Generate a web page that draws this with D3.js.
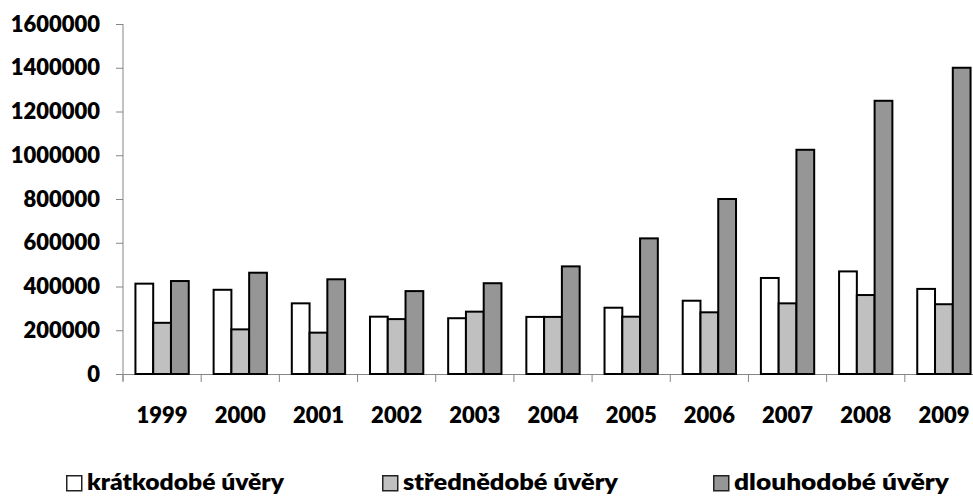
<!DOCTYPE html>
<html>
<head>
<meta charset="utf-8">
<script src="https://cdn.jsdelivr.net/npm/d3@7"></script>
<style>
  body { margin: 0; background: #fff; }
  svg { display: block; }
  text { font-family: Lato, "Open Sans", sans-serif; font-weight: 800; fill: #000; }
</style>
</head>
<body>
<svg width="973" height="496"></svg>
<script>
const d3 = window.d3

// Data

const years = ['1999', '2000', '2001', '2002', '2003', '2004', '2005', '2006', '2007', '2008', '2009']
const seriesNames = ['krátkodobé úvěry', 'střednědobé úvěry', 'dlouhodobé úvěry']
const kratkodobe = [413000, 385000, 323000, 262000, 255000, 261000, 303000, 335000, 439000, 469000, 389000]
const strednedobe = [234000, 204000, 189000, 251000, 285000, 261000, 262000, 282000, 323000, 361000, 319000]
const dlouhodobe = [425000, 463000, 433000, 379000, 415000, 492000, 620000, 800000, 1025000, 1249000, 1400000]
const yTicks = [0, 200000, 400000, 600000, 800000, 1000000, 1200000, 1400000, 1600000]
const colors = ['#ffffff', '#c0c0c0', '#969696']

const values = [kratkodobe, strednedobe, dlouhodobe]
const rows = years.map((year, i) => ({ year, vals: values.map(v => v[i]) }))

// Layout

const svg = d3.select('svg')
const plotLeft = 123
const plotRight = 983
const plotTop = 24
const plotBottom = 374
const axisColor = '#868686'

const x0 = d3.scaleBand().domain(years).range([plotLeft, plotRight]).padding(0)
const x1 = d3.scaleBand().domain(seriesNames).range([0, x0.bandwidth()])
  .paddingInner(0).paddingOuter(0.7)
const y = d3.scaleLinear().domain([0, 1600000]).range([plotBottom, plotTop])

// Y axis

const yAxis = svg.append('g')
  .attr('transform', `translate(${plotLeft},0)`)
  .call(d3.axisLeft(y).tickValues(yTicks).tickSize(7).tickSizeOuter(0)
    .tickPadding(16).tickFormat(d3.format('d')))
yAxis.select('.domain').attr('stroke', axisColor).attr('d', `M0,${plotTop}V${plotBottom + 7}`)
yAxis.selectAll('.tick line').attr('stroke', axisColor)
yAxis.selectAll('text').attr('font-size', 22).attr('fill', '#000')
  .attr('font-family', 'Lato, sans-serif')

// X axis

const xAxis = svg.append('g')
  .attr('transform', `translate(0,${plotBottom})`)
  .call(d3.axisBottom(x0).tickSize(0).tickPadding(33).tickSizeOuter(0))
xAxis.select('.domain').attr('stroke', axisColor)
xAxis.selectAll('text').attr('font-size', 22).attr('fill', '#000')
  .attr('font-family', 'Lato, sans-serif')

svg.append('g').selectAll('line')
  .data(years.concat(['end']))
  .enter().append('line')
    .attr('x1', d => d === 'end' ? plotRight : x0(d))
    .attr('x2', d => d === 'end' ? plotRight : x0(d))
    .attr('y1', plotBottom)
    .attr('y2', plotBottom + 8)
    .attr('stroke', axisColor)

// Bars

const groups = svg.append('g').selectAll('g')
  .data(rows)
  .enter().append('g')
    .attr('transform', d => `translate(${x0(d.year)},0)`)

groups.selectAll('rect')
  .data(d => d.vals.map((v, i) => ({ name: seriesNames[i], v, i })))
  .enter().append('rect')
    .attr('x', d => x1(d.name))
    .attr('y', d => y(d.v))
    .attr('width', x1.bandwidth())
    .attr('height', d => plotBottom - y(d.v))
    .attr('fill', d => colors[d.i])
    .attr('stroke', '#000')
    .attr('stroke-width', 2)

// Legend

const legendX = [66, 382, 713]
const legendW = [197, 215, 215]

const legend = svg.append('g').selectAll('g')
  .data(seriesNames)
  .enter().append('g')
    .attr('transform', (d, i) => `translate(${legendX[i]},475)`)

legend.append('rect')
  .attr('x', 0.75)
  .attr('y', 0.75)
  .attr('width', 15)
  .attr('height', 15)
  .attr('fill', (d, i) => colors[i])
  .attr('stroke', '#222')
  .attr('stroke-width', 1.5)

legend.append('text')
  .attr('x', 21)
  .attr('y', 15)
  .attr('font-size', 22)
  .attr('textLength', (d, i) => legendW[i])
  .attr('lengthAdjust', 'spacingAndGlyphs')
  .text(d => d)
</script>
</body>
</html>
